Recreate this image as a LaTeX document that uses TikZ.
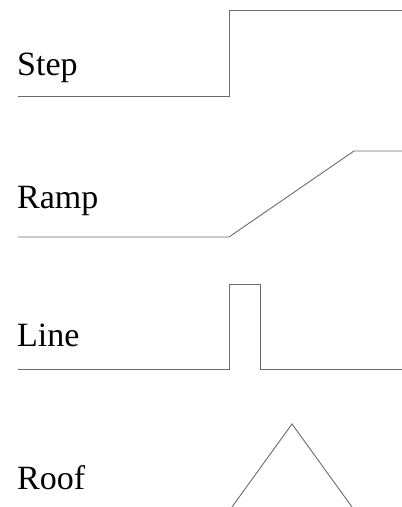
\documentclass[tikz,border=0pt]{standalone}
\usepackage{fontspec}
\setmainfont{Liberation Serif}
\usepackage{tikz}
\usetikzlibrary{calc}

\begin{document}
\begin{tikzpicture}[x=1pt,y=-1pt,every node/.style={inner sep=0pt,anchor=base west,font=\fontsize{34}{40}\selectfont}]
				\useasboundingbox (0,0) rectangle (402,507);
				\node (step) at (17,75){Step};
				\node (ramp) at (17,208){Ramp};
				\node (line) at (17,346){Line};
				\node (roof) at (17,489){Roof};
				\begin{scope}[gray!85!black, line width=0.9pt]
				\draw (18,96)--(229,96)--(229,10)--(402,10);
				\draw (18,237)--(229,237)--(354,151)--(402,151);
				\draw (18,369)--(229,369)--(229,284)--(260,284)--(260,369)--(402,369);
				\draw (232,507)--(292,424)--(352,507);
				\end{scope}
			\end{tikzpicture}
\end{document}
